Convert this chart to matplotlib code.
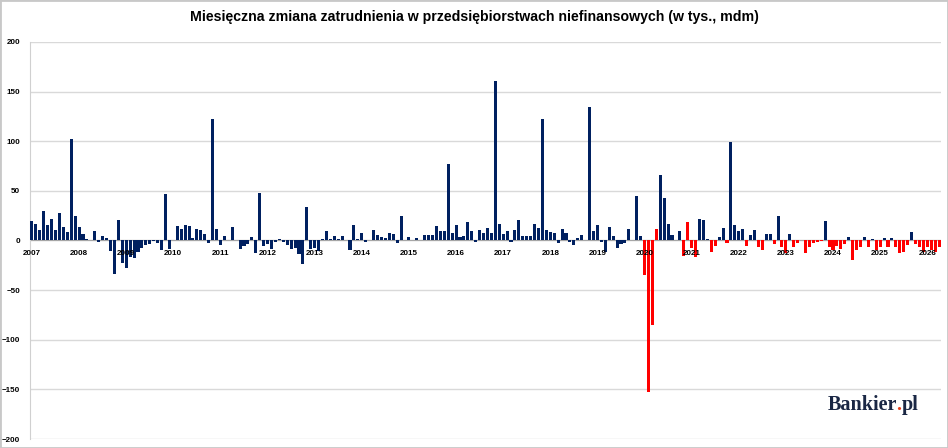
import matplotlib.pyplot as plt
from matplotlib.patches import Rectangle
from matplotlib.transforms import offset_copy

# miesięczna zmiana zatrudnienia, tys., od 2007-01 (po 12 wartości w wierszu)
zmiana = [
    20, 17, 11, 30, 16, 22, 11, 28, 14, 9, 102, 25,        # 2007
    14, 7, 2, 0, 10, -2, 5, 3, -11, -34, 21, -23,          # 2008
    -28, -17, -18, -12, -8, -5, -4, -1, -3, -10, 47, -9,   # 2009
    1, 15, 12, 16, 15, 3, 12, 11, 7, -3, 122, 12,          # 2010
    -5, 5, 0, 14, 1, -9, -6, -4, 4, -13, 48, -6,           # 2011
    -4, -9, -2, 2, -2, -5, -9, -8, -14, -24, 34, -9,       # 2012
    -8, -11, 2, 10, 2, 5, 2, 5, 1, -10, 16, 2,             # 2013
    8, -2, 1, 11, 6, 4, 3, 8, 7, -3, 25, 1,                # 2014
    4, 1, 3, 1, 6, 6, 6, 15, 10, 10, 77, 8,                # 2015
    16, 4, 5, 19, 10, -2, 11, 8, 13, 8, 161, 17,           # 2016
    7, 10, -2, 11, 21, 5, 5, 5, 17, 13, 122, 11,           # 2017
    9, 8, -3, 12, 8, -2, -5, 3, 6, 1, 135, 10,             # 2018
    16, -2, -12, 14, 5, -8, -4, -3, 12, 0, 45, 5,          # 2019
    -35, -153, -85, 12, 66, 43, 17, 6, 1, 10, -16, 19,     # 2020
    -8, -17, 22, 21, 2, -12, -6, 4, 13, -3, 99, 16,        # 2021
    10, 12, -6, 6, 11, -7, -10, 7, 7, -4, 25, -7,          # 2022
    -13, 7, -7, -3, 1, -13, -7, -3, -2, -1, 20, -7,        # 2023
    -10, -6, -9, -4, 4, -20, -10, -7, 4, -7, 2, -10,       # 2024
    -7, 3, -7, 3, -7, -13, -12, -5, 9, -4, -7, -12,        # 2025
    -7, -10, -12, -7,                                      # 2026
]
lata = [str(r) for r in range(2007, 2027)]
start_czerwone = 156          # od 2020-01
czerwone_dodatnie = [159, 167]

granat = '#002060'
czerwony = '#ff0000'

kolory = []
for i, v in enumerate(zmiana):
    if i >= start_czerwone and (v < 0 or i in czerwone_dodatnie):
        kolory.append(czerwony)
    else:
        kolory.append(granat)

x = list(range(len(zmiana)))

fig = plt.figure(figsize=(9.48, 4.48), dpi=100)
ax = fig.add_axes([30 / 948, 9 / 448, 911 / 948, 397 / 448])

ax.bar(x, zmiana, width=0.78, color=kolory, zorder=3)
ax.axhline(0, color='#a6a6a6', lw=0.8, zorder=2)

ax.set_xlim(-0.5, len(zmiana) - 0.5)
ax.set_ylim(-200, 200)
ax.set_yticks(range(-200, 201, 50))
ax.yaxis.grid(True, color='#d9d9d9', lw=1, zorder=0)
ax.set_xticks([])
ax.tick_params(axis='y', length=0, pad=7, labelsize=5.8)
for t in ax.get_yticklabels():
    t.set_fontweight('bold')
    t.set_fontfamily('Liberation Sans')

for s in ['top', 'right', 'bottom']:
    ax.spines[s].set_visible(False)
ax.spines['left'].set_color('#d0d0d0')

for k, rok in enumerate(lata):
    ax.text(k * 12, -13, rok, ha='center', va='center', fontsize=5.8,
            fontweight='bold', family='Liberation Sans', zorder=4)

fig.text(0.5, 1 - 17 / 448, 'Miesięczna zmiana zatrudnienia w przedsiębiorstwach niefinansowych (w tys., mdm)',
         ha='center', va='center', fontsize=10.2, fontweight='bold', family='Liberation Sans')

# logo: Bankier + czerwona kropka + pl, pozycje z szerokości tekstu
renderer = fig.canvas.get_renderer()
styl = dict(fontsize=14.5, fontweight='bold', family='Liberation Serif', va='baseline')
xl, yl = 828 / 948, 1 - 410 / 448
t1 = fig.text(xl, yl, 'Bankier', color='#1a2744', ha='left', **styl)
w_b = t1.get_window_extent(renderer).width
pomiar = fig.text(xl, yl, 'Bankier.', ha='left', **styl)
w_bd = pomiar.get_window_extent(renderer).width
pomiar.remove()
fig.text(xl, yl, '.', color='#e8401c', ha='right',
         transform=offset_copy(fig.transFigure, fig=fig, x=w_bd + 1, units='dots'), **styl)
fig.text(xl, yl, 'pl', color='#1a2744', ha='left',
         transform=offset_copy(fig.transFigure, fig=fig, x=w_bd + 1, units='dots'), **styl)

fig.patches.append(Rectangle((0, 0), 1, 1, transform=fig.transFigure, fill=False,
                             edgecolor='#c8c8c8', lw=2))

fig.savefig('out.png', dpi=100)
